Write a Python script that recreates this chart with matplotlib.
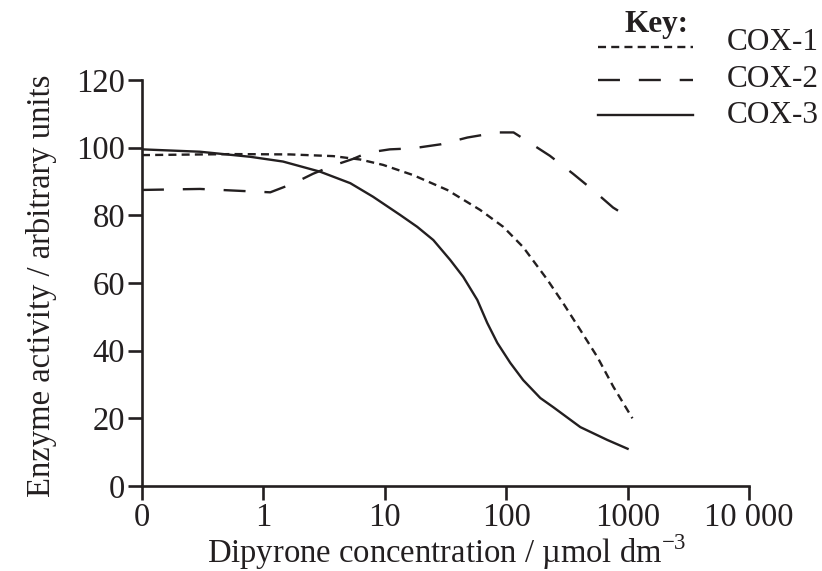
import matplotlib
matplotlib.use("Agg")
import matplotlib.pyplot as plt
from matplotlib.lines import Line2D

plt.rcParams['font.family'] = ['Liberation Serif', 'DejaVu Serif']
plt.rcParams['mathtext.fontset'] = 'custom'
plt.rcParams['mathtext.rm'] = 'Liberation Serif'

# dipyrone concentration (umol dm-3); the "0" point sits at the 0.1 axis break
zero = 0.1
cox1_conc = [zero, 0.56, 1.66, 3.76, 6.27, 9.7, 17.1, 32.7, 61, 94.6, 138,
             218, 295, 408, 564, 764, 1096]
cox1_act = [97.8, 98.1, 98, 97.5, 96.5, 94.9, 91.9, 87.5, 81.6, 76.6, 70.6,
            61, 54, 46.1, 38.1, 29.3, 20]

cox2_conc = [zero, 0.3, 1.14, 1.76, 2.57, 3.76, 5.5, 7.2, 11, 17, 29, 48, 85,
             115, 148, 229, 355, 525, 759, 1120]
cox2_act = [87.5, 87.8, 86.8, 89.4, 92.3, 94.7, 96.7, 98.5, 99.5, 99.8, 101,
            103, 104.5, 104.5, 102, 97.6, 92.3, 87.3, 82.3, 78.5]

cox3_conc = [zero, 0.3, 0.78, 1.45, 2.93, 5.2, 8.0, 13.4, 18.5, 25.1, 34.6,
             44.3, 57.8, 69.8, 84.5, 108, 138, 191, 244, 408, 681, 1000]
cox3_act = [99.5, 98.8, 97.3, 95.9, 92.9, 89.5, 85.5, 80.1, 76.6, 72.7, 66.8,
            61.8, 55, 48.2, 42.3, 36.4, 31.3, 26, 23.3, 17.4, 13.6, 11]

x_ticks = [zero, 1, 10, 100, 1000, 10000]
x_labels = ["0", "1", "10", "100", "1000", "10 000"]
y_ticks = [0, 20, 40, 60, 80, 100, 120]

ink = '#231f20'
lw = 1.7
fs = 23.5
styles = {
    "COX-1": dict(ls=(0, (3.4, 2.2)), lw=lw),
    "COX-2": dict(ls=(0, (9.3, 8.0)), lw=lw),
    "COX-3": dict(ls='-', lw=lw),
}

fig = plt.figure(figsize=(8.22, 5.71), dpi=100)
ax = fig.add_axes([0.1727, 0.1489, 0.7385, 0.711])

ax.plot(cox1_conc, cox1_act, color=ink, **styles["COX-1"])
ax.plot(cox2_conc, cox2_act, color=ink, **styles["COX-2"])
ax.plot(cox3_conc, cox3_act, color=ink, **styles["COX-3"])

ax.set_xscale('log')
ax.set_xlim(zero, 10000)
ax.set_ylim(0, 120)
ax.minorticks_off()
ax.set_xticks(x_ticks)
ax.set_xticklabels(x_labels)
ax.set_yticks(y_ticks)

for s in ['top', 'right']:
    ax.spines[s].set_visible(False)
for s in ['left', 'bottom']:
    ax.spines[s].set_linewidth(1.9)
    ax.spines[s].set_color(ink)
ax.tick_params(direction='out', length=10, width=1.9, color=ink,
               labelsize=fs, labelcolor=ink)
ax.tick_params(axis='y', pad=2)
ax.tick_params(axis='x', pad=2)

fig.text(0.051, 0.5, "Enzyme activity / arbitrary units", fontsize=fs,
         color=ink, rotation=90, ha='center', va='center')
fig.text(0.543, 0.033, r"Dipyrone concentration / µmol dm$^{\mathregular{-3}}$",
         fontsize=fs, color=ink, ha='center', va='center')

# key in the top right corner
fig.text(0.760, 0.944, "Key:", fontsize=22.5, fontweight='bold', color=ink,
         ha='left', va='baseline')
line_y = [0.9177, 0.860, 0.7986]
text_y = [0.9124, 0.8476, 0.7846]
for (name, st), yl, yt in zip(styles.items(), line_y, text_y):
    fig.add_artist(Line2D([0.7275, 0.843], [yl, yl], color=ink,
                          transform=fig.transFigure, **st))
    fig.text(0.8845, yt, name, fontsize=22.5, color=ink,
             ha='left', va='baseline')

fig.savefig("out.png", dpi=100)
